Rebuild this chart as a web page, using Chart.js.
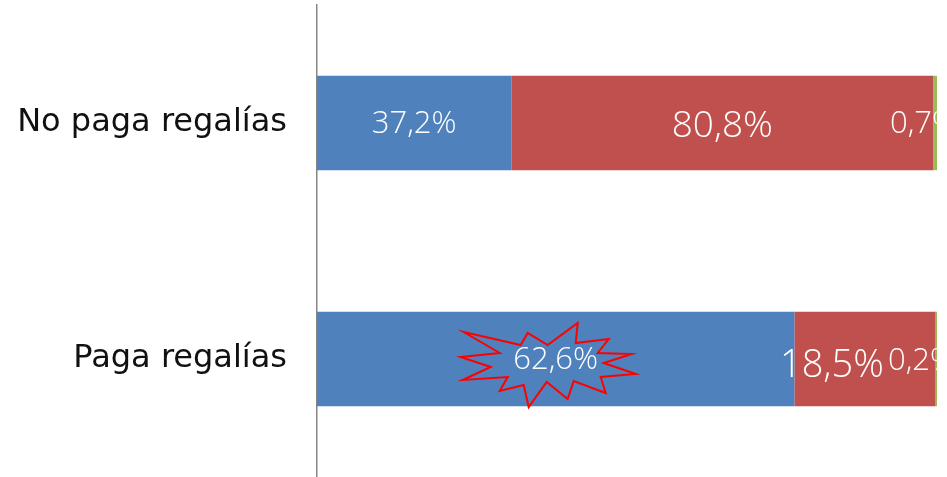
<!DOCTYPE html>
<html>
<head>
<meta charset="utf-8">
<script src="https://cdn.jsdelivr.net/npm/chart.js@4/dist/chart.umd.min.js"></script>
<style>
  html, body { margin: 0; padding: 0; background: #fff; }
  #wrap { width: 947px; height: 477px; }
</style>
</head>
<body>
<div id="wrap"><canvas id="regalias"></canvas></div>
<script>
// datos
const categorias = ['No paga regalías', 'Paga regalías'];
const serieAzul = [37.2, 62.6];
const serieRoja = [80.8, 18.5];
const serieVerde = [0.7, 0.2];

const series = [serieAzul, serieRoja, serieVerde];
const colores = ['#4F81BD', '#C0504D', '#9BBB59'];

// cada barra se normaliza a 100% (barra apilada 100%)
const totales = categorias.map((c, j) => series.reduce((s, arr) => s + arr[j], 0));
const porcentaje = arr => arr.map((v, j) => v / totales[j] * 100);

// estilo de las etiquetas (tamaño y desplazamiento)
const estiloEtiquetas = [
    [{ size: 31, dx: 0, dy: 1 }, { size: 31, dx: 0, dy: 1 }],
    [{ size: 37, dx: 0, dy: 3 }, { size: 38, dx: -33, dy: 7 }],
    [{ size: 31, dx: -47, dy: 1, left: true }, { size: 31, dx: -49, dy: 2, left: true }]
];

// estrella roja alrededor de 62,6%
const estrella = [
    [-87, -33], [-30, -20], [-23, -32], [-3, -20], [27, -42], [25, -22], [58, -26], [47, -12],
    [81, -11], [53, -2], [85, 9], [50, 12], [55, 28], [23, 16], [17, 34], [-4, 17],
    [-22, 42], [-27, 20], [-51, 26], [-43, 12], [-88, 15], [-60, 2], [-90, -8], [-51, -12]
];

const formato = v => v.toFixed(1).replace('.', ',') + '%';

const pluginEtiquetas = {
    id: 'etiquetas',
    afterDatasetsDraw(chart) {
        const ctx = chart.ctx;
        const area = chart.chartArea;
        ctx.save();
        ctx.beginPath();
        ctx.rect(area.left, 0, area.right - area.left + 1, chart.height);
        ctx.clip();

        // estrella sobre la barra azul de "Paga regalías"
        const barra = chart.getDatasetMeta(0).data[1];
        const cx = (barra.x + barra.base) / 2 - 5;
        const cy = barra.y + 6;
        ctx.beginPath();
        estrella.forEach(([px, py], k) => {
            if (k === 0) ctx.moveTo(cx + px, cy + py);
            else ctx.lineTo(cx + px, cy + py);
        });
        ctx.closePath();
        ctx.strokeStyle = '#FF0000';
        ctx.lineWidth = 2;
        ctx.lineJoin = 'miter';
        ctx.stroke();

        chart.data.datasets.forEach((ds, i) => {
            const meta = chart.getDatasetMeta(i);
            meta.data.forEach((el, j) => {
                const st = estiloEtiquetas[i][j];
                ctx.font = '300 ' + st.size + 'px "Open Sans", sans-serif';
                ctx.fillStyle = '#FFFFFF';
                ctx.textBaseline = 'middle';
                let x;
                if (st.left) {
                    ctx.textAlign = 'left';
                    x = el.x + st.dx;
                } else {
                    ctx.textAlign = 'center';
                    x = (el.x + el.base) / 2 + st.dx;
                }
                ctx.fillText(formato(series[i][j]), x, el.y + st.dy);
            });
        });
        ctx.restore();
    }
};

new Chart(document.querySelector('#regalias'), {
    type: 'bar',
    data: {
        labels: categorias,
        datasets: series.map((arr, i) => ({
            label: 'Serie ' + (i + 1),
            data: porcentaje(arr),
            backgroundColor: colores[i],
            borderWidth: 0,
            barPercentage: 0.4,
            categoryPercentage: 1
        }))
    },
    options: {
        indexAxis: 'y',
        responsive: true,
        maintainAspectRatio: false,
        animation: false,
        layout: { padding: { top: 5, right: 10, bottom: 0, left: 0 } },
        plugins: {
            legend: { display: false },
            tooltip: { enabled: false }
        },
        scales: {
            x: {
                stacked: true,
                display: false,
                min: 0,
                max: 100
            },
            y: {
                stacked: true,
                grid: { display: false, drawTicks: false },
                border: { display: true, color: '#868686', width: 1.5 },
                ticks: {
                    color: '#111',
                    padding: 30,
                    font: { family: '"DejaVu Sans", sans-serif', size: 32 }
                },
                afterFit(scale) {
                    scale.width = 317;
                    scale.paddingTop = 0;
                    scale.paddingBottom = 0;
                }
            }
        }
    },
    plugins: [pluginEtiquetas]
});
</script>
</body>
</html>
